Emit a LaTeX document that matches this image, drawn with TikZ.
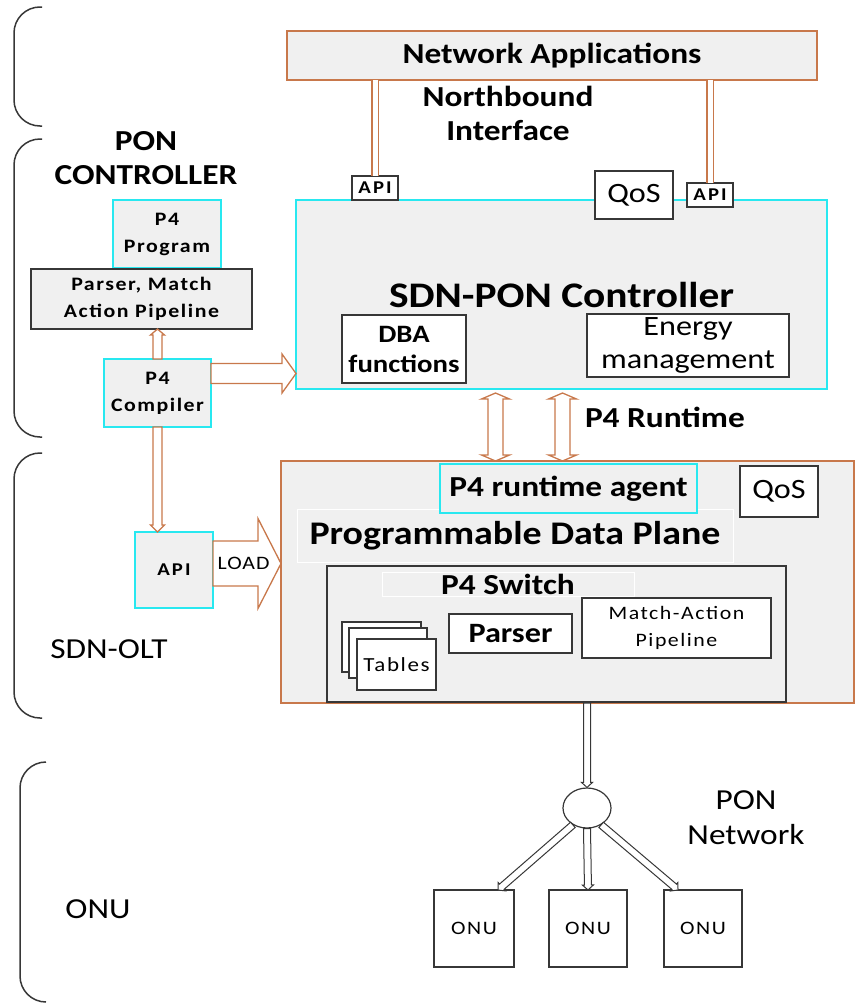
\documentclass[tikz,border=0pt]{standalone}
\usepackage{fontspec}
\setmainfont{Carlito}[FakeStretch=1.15]
\usetikzlibrary{calc,shapes.geometric}

\definecolor{org}{RGB}{200,120,75}
\definecolor{cyn}{RGB}{40,232,240}
\definecolor{gfill}{RGB}{240,240,240}
\definecolor{dk}{RGB}{55,55,55}

\newcommand\fs[2]{\fontsize{#1}{#2}\selectfont}
% box with separate text node: name, box style, x1, y1, x2, y2, text style, text
\newcommand\bx[8]{%
  \node[#2, minimum width={(#5)-(#3)}, minimum height={(#6)-(#4)}] (#1) at ({(#3+#5)/2},{(#4+#6)/2}) {};
  \node[txt, #7] (#1t) at (#1.center) {#8};}
\newcommand\bxe[6]{%
  \node[#2, minimum width={(#5)-(#3)}, minimum height={(#6)-(#4)}] (#1) at ({(#3+#5)/2},{(#4+#6)/2}) {};}
% single block arrow: style, from, to, shaft half, head half, head length
\newcommand\blkarrow[6]{%
  \coordinate (bh) at ($(#3)!#6pt!(#2)$);
  \draw[#1] ($(#2)!#4pt!90:(#3)$) -- ($(bh)!#4pt!90:(#3)$) -- ($(bh)!#5pt!90:(#3)$) -- (#3)
    -- ($(bh)!#5pt!-90:(#3)$) -- ($(bh)!#4pt!-90:(#3)$) -- ($(#2)!#4pt!-90:(#3)$) -- cycle;}
% double-headed block arrow
\newcommand\dblarrow[6]{%
  \coordinate (dha) at ($(#2)!#6pt!(#3)$);
  \coordinate (dhb) at ($(#3)!#6pt!(#2)$);
  \draw[#1] (#2) -- ($(dha)!#5pt!90:(#3)$) -- ($(dha)!#4pt!90:(#3)$) -- ($(dhb)!#4pt!90:(#3)$)
    -- ($(dhb)!#5pt!90:(#3)$) -- (#3) -- ($(dhb)!#5pt!-90:(#3)$) -- ($(dhb)!#4pt!-90:(#3)$)
    -- ($(dha)!#4pt!-90:(#3)$) -- ($(dha)!#5pt!-90:(#3)$) -- cycle;}

\begin{document}
\begin{tikzpicture}[x=1pt,y=-1pt,
  box/.style={draw=dk, fill=white, line width=1.3pt, inner sep=0pt, outer sep=0pt},
  obox/.style={box, draw=org, fill=gfill},
  cbox/.style={box, draw=cyn, fill=gfill},
  gbox/.style={box, draw=dk, fill=gfill, line width=2pt},
  faint/.style={box, draw=white, fill=gfill, line width=1pt},
  txt/.style={inner sep=0pt, outer sep=0pt, align=center},
  oarr/.style={draw=org, fill=white, line width=1.3pt, line join=miter},
  karr/.style={draw=dk, fill=white, line width=1pt, line join=miter},
  brk/.style={draw=dk, line width=1.5pt, rounded corners=26pt},
  dline/.style={draw=org, line width=1.3pt, double=white, double distance=5pt},
  bigb/.style={font={\fs{29}{34}\bfseries}},
  bigr/.style={font={\fs{29}{35}}},
  smallb/.style={font={\fs{19}{27}\bfseries\addfontfeature{LetterSpace=8}}},
  smallr/.style={font={\fs{19}{27}\addfontfeature{LetterSpace=8}}},
  apif/.style={font={\fs{18}{20}\bfseries\addfontfeature{LetterSpace=12}}}
]
\useasboundingbox (0,0) rectangle (856,1004);

% side brackets
\draw[brk] (42,7) -- (14,7) -- (14,126) -- (42,126);
\draw[brk] (42,139) -- (14,139) -- (14,437) -- (42,437);
\draw[brk] (42,453) -- (14,453) -- (14,718) -- (42,718);
\draw[brk] (46,762) -- (20,762) -- (20,1002) -- (46,1002);

% side labels
\node[txt, bigb] (ponc) at (146,158) {PON\\CONTROLLER};
\node[txt, bigr] (sdnolt) at (109,649) {SDN-OLT};
\node[txt, bigr] (onul) at (98,909) {ONU};

% top: network applications
\bx{na}{obox}{287}{31}{817}{80}{bigb}{Network Applications}
\node[txt, bigb] (nbi) at (508,113) {Northbound\\Interface};

% SDN-PON controller
\bx{sdn}{cbox}{296}{200}{827}{389}{font={\fs{36}{40}\bfseries}}{SDN-PON Controller}
\bx{dba}{box}{342}{315}{466}{383}{font={\fs{25}{30}\bfseries}}{DBA\\functions}
\bx{energy}{box}{587}{314}{789}{377}{font={\fs{28}{33}}}{Energy\\management}

\bx{api1}{box}{352}{176}{398}{200}{apif}{API}
\bx{api2}{box}{687}{183}{733}{207}{apif}{API}
\bx{qos1}{box}{595}{171}{673}{219}{font={\fs{28}{30}}}{QoS}

% left column
\bx{prog}{cbox}{113}{200}{221}{268}{smallb}{P4\\Program}
\bx{pam}{gbox}{31}{269}{252}{329}{smallb}{Parser, Match\\Action Pipeline}
\bx{comp}{cbox}{104}{359}{211}{427}{smallb}{P4\\Compiler}
\bx{api3}{cbox}{135}{532}{213}{608}{apif}{API}

% data plane
\bxe{dp}{obox}{281}{461}{854}{703}
\bx{pdp}{faint}{297}{509}{733}{562}{font={\fs{33}{36}\bfseries}}{Programmable Data Plane}
\bx{agent}{cbox}{440}{464}{697}{513}{bigb}{P4 runtime agent}
\bx{qos2}{box}{740}{466}{818}{517}{font={\fs{28}{30}}}{QoS}
\bxe{sw}{gbox}{327}{566}{786}{702}
\bx{swl}{faint}{382}{572}{634}{596}{bigb}{P4 Switch}
\bx{parser}{box}{449}{614}{572}{653}{font={\fs{28}{30}\bfseries}}{Parser}
\bx{mat}{box}{582}{598}{771}{658}{smallr}{Match-Action\\Pipeline}
\bxe{tab1}{box}{342}{622}{421}{672}
\bxe{tab2}{box}{349}{628}{427}{678}
\bx{tab3}{box}{357}{639}{436}{690}{font={\fs{20}{22}\addfontfeature{LetterSpace=8}}}{Tables}

% PON network
\node[ellipse, draw=dk, fill=white, line width=1.2pt, minimum width=48pt, minimum height=40pt, inner sep=0pt] (split) at (587,808) {};
\bx{onu1}{box}{434}{890}{514}{967}{smallr}{ONU}
\bx{onu2}{box}{549}{890}{627}{967}{smallr}{ONU}
\bx{onu3}{box}{664}{890}{742}{967}{smallr}{ONU}
\node[txt, bigr] (ponnet) at (746,818) {PON\\Network};

% connectors
\draw[dline] (api1.north |- na.south) -- (api1.north);
\draw[dline] (api2.north |- na.south) -- (api2.north);

\coordinate (cupB) at (comp.north |- pam.south);
\blkarrow{oarr}{comp.north}{cupB}{4.5}{7}{6}

\coordinate (bigA) at ([yshift=19.5pt]comp.east);
\coordinate (bigB) at (sdn.west |- bigA);
\blkarrow{oarr}{bigA}{bigB}{10}{19.5}{14}

\coordinate (cdB) at (comp.south |- api3.north);
\blkarrow{oarr}{comp.south}{cdB}{4.5}{7}{7}

\coordinate (ldA) at ([yshift=6.5pt]api3.east);
\coordinate (ldB) at (dp.west |- ldA);
\blkarrow{oarr}{ldA}{ldB}{22.5}{45}{23}
\node[txt, font={\fs{19}{20}\addfontfeature{LetterSpace=5}}] (load) at ($(ldA)!0.45!(ldB)$) {LOAD};

\coordinate (rt1a) at ([xshift=-66pt,yshift=-4pt]sdn.south);
\coordinate (rt1b) at (rt1a |- dp.north);
\dblarrow{oarr}{rt1a}{rt1b}{7.5}{14}{6}
\coordinate (rt2a) at ([xshift=1pt,yshift=-4pt]sdn.south);
\coordinate (rt2b) at (rt2a |- dp.north);
\dblarrow{oarr}{rt2a}{rt2b}{7.5}{14}{6}
\node[txt, bigb, anchor=west] (rtl) at (585,417) {P4 Runtime};

\coordinate (dsA) at (split.north |- dp.south);
\blkarrow{karr}{dsA}{split.north}{3.5}{5.5}{5}
\coordinate (o1) at ($(onu1.north west)!0.8!(onu1.north east)$);
\coordinate (o3) at ($(onu3.north west)!0.18!(onu3.north east)$);
\blkarrow{karr}{split.230}{o1}{3.5}{5.5}{5}
\blkarrow{karr}{split.south}{onu2.north}{3.5}{5.5}{5}
\blkarrow{karr}{split.-50}{o3}{3.5}{5.5}{5}
\end{tikzpicture}
\end{document}
